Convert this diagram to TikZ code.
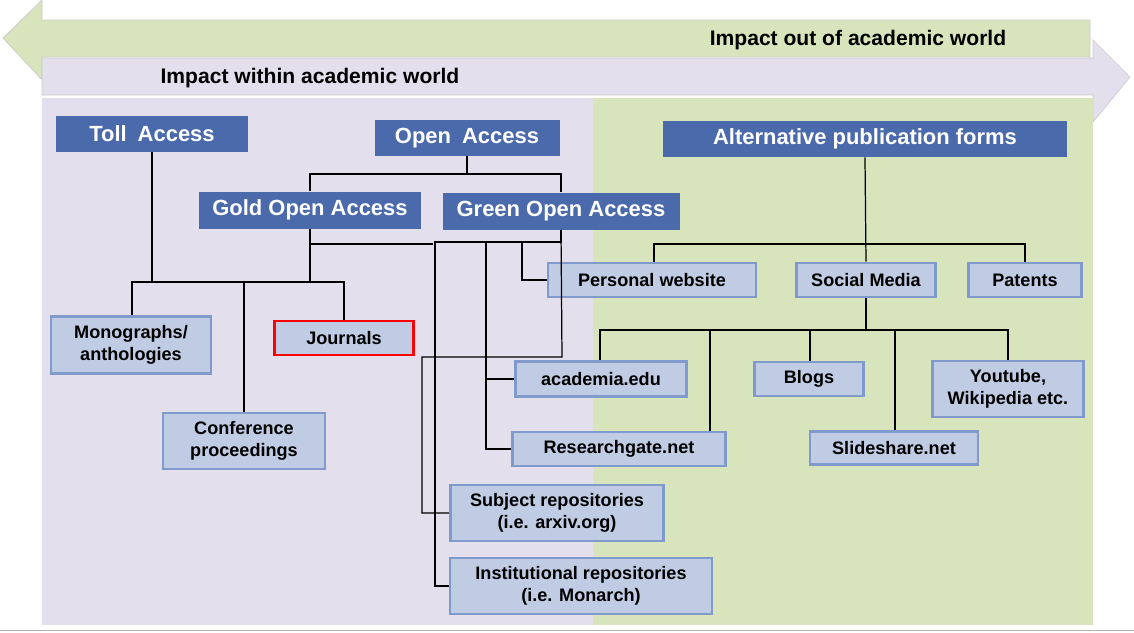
\documentclass[tikz,border=0pt]{standalone}
\usepackage{fontspec}
\setmainfont{Liberation Sans}
\usepackage{xcolor}
\definecolor{darkbox}{HTML}{4A6AAC}
\definecolor{lightbox}{HTML}{C0CCE4}
\definecolor{lightedge}{HTML}{7F9ACB}
\definecolor{purplebg}{HTML}{E4DFEC}
\definecolor{greenbg}{HTML}{D8E4BC}
\tikzset{
    head/.style={rectangle, fill=darkbox, text=white, font=\bfseries\fontsize{12.5}{14}\selectfont, inner sep=0pt},
    item/.style={rectangle, draw=lightedge, line width=1.6pt, fill=lightbox, font=\bfseries\fontsize{10.3}{12.5}\selectfont, align=center, inner sep=0pt},
    journal/.style={item, draw=red},
    link/.style={black, line width=0.7pt}
}
\begin{document}
\begin{tikzpicture}[x=0.02cm, y=-0.02cm]
    \useasboundingbox (0,0) rectangle (1134,633);
    % background arrows
    \fill[greenbg, draw=gray!40] (42,20) -- (1090,20) -- (1090,57) -- (42,57) -- (42,80) -- (3,38) -- (42,0) -- cycle;
    \fill[purplebg, draw=gray!40] (42,58) -- (1093,58) -- (1093,40) -- (1130,77) -- (1093,122) -- (1093,95) -- (42,95) -- cycle;
    \node[font=\bfseries\fontsize{12}{14}\selectfont] (out) at (858,40) {Impact out of academic world};
    \node[font=\bfseries\fontsize{12}{14}\selectfont] (within) at (310,78) {Impact within academic world};
    % panels
    \fill[purplebg] (42,98) rectangle (593,625);
    \fill[greenbg] (593,98) rectangle (1093,625);
    \draw[gray!60] (0,630) -- (1134,630);

    % header boxes
    \node[head, minimum width=192*0.02cm, minimum height=36*0.02cm] (toll) at (152,134) {Toll\enspace Access};
    \node[head, minimum width=185*0.02cm, minimum height=36*0.02cm] (open) at (467,138) {Open\enspace Access};
    \node[head, minimum width=404*0.02cm, minimum height=36*0.02cm] (alt) at (865,139) {Alternative publication forms};
    \node[head, minimum width=222*0.02cm, minimum height=37*0.02cm] (gold) at (310,210) {Gold Open Access};
    \node[head, minimum width=237*0.02cm, minimum height=37*0.02cm] (green) at (561,211) {Green Open Access};

    % leaf boxes
    \node[item, minimum width=160*0.02cm, minimum height=57*0.02cm] (mono) at (131,345) {Monographs/\\anthologies};
    \node[journal, minimum width=139*0.02cm, minimum height=34*0.02cm] (journ) at (344,338) {Journals};
    \node[item, minimum width=162*0.02cm, minimum height=56*0.02cm] (conf) at (244,441) {Conference\\proceedings};
    \node[item, minimum width=208*0.02cm, minimum height=34*0.02cm] (pers) at (652,280) {Personal website};
    \node[item, minimum width=139*0.02cm, minimum height=34*0.02cm] (social) at (866,280) {Social Media};
    \node[item, minimum width=113*0.02cm, minimum height=34*0.02cm] (patent) at (1025,280) {Patents};
    \node[item, minimum width=171*0.02cm, minimum height=35*0.02cm] (acad) at (601,379) {academia.edu};
    \node[item, minimum width=109*0.02cm, minimum height=34*0.02cm] (blogs) at (809,379) {Blogs};
    \node[item, minimum width=151*0.02cm, minimum height=56*0.02cm] (tube) at (1008,389) {Youtube,\\Wikipedia etc.};
    \node[item, minimum width=213*0.02cm, minimum height=34*0.02cm] (rgate) at (619,449) {Researchgate.net};
    \node[item, minimum width=168*0.02cm, minimum height=33*0.02cm] (slide) at (894,448) {Slideshare.net};
    \node[item, minimum width=213*0.02cm, minimum height=56*0.02cm] (subj) at (557,513) {Subject repositories\\(i.e. arxiv.org)};
    \node[item, minimum width=262*0.02cm, minimum height=56*0.02cm] (inst) at (581,586) {Institutional repositories\\(i.e. Monarch)};

    % toll / gold tree
    \coordinate (tbar) at (152,282);
    \draw[link] (toll.south) -- (tbar);
    \draw[link] (gold.south) -- (310,282);
    \draw[link] (mono.north -| 132,0) |- (tbar) -| (journ.north);
    \draw[link] (conf.north) -- (244,282);
    \draw[link] (gold.south) |- (433,244);
    % open access
    \draw[link] (open.south) |- (gold.north |- 0,174) -- (gold.north);
    \draw[link] (open.south) |- (green.north |- 0,174) -- (green.north);
    % green tree
    \coordinate (gbar) at (435,242);
    \draw[link] (green.south) |- (gbar) |- (inst.west);
    \draw[link, line width=1.2pt] (green.south) |- (486,242) |- (rgate.west);
    \draw[link] (486,379) -- (acad.west);
    \draw[link] (522,242) |- (pers.west);
    \draw[link] (green.south) -- (562,357) -| (422,357) |- (subj.west);
    % alternative tree
    \draw[link] (alt.south) -- (social.north);
    \draw[link] (pers.north -| 654,0) |- (865,244) -| (patent.north);
    \draw[link, line width=1.2pt] (social.south) -- (866,330);
    \draw[link] (acad.north -| 600,0) |- (866,330) -| (tube.north);
    \draw[link] (710,330) -- (rgate.north -| 710,0);
    \draw[link] (810,330) -- (blogs.north -| 810,0);
    \draw[link] (895,330) -- (slide.north -| 895,0);
\end{tikzpicture}
\end{document}
